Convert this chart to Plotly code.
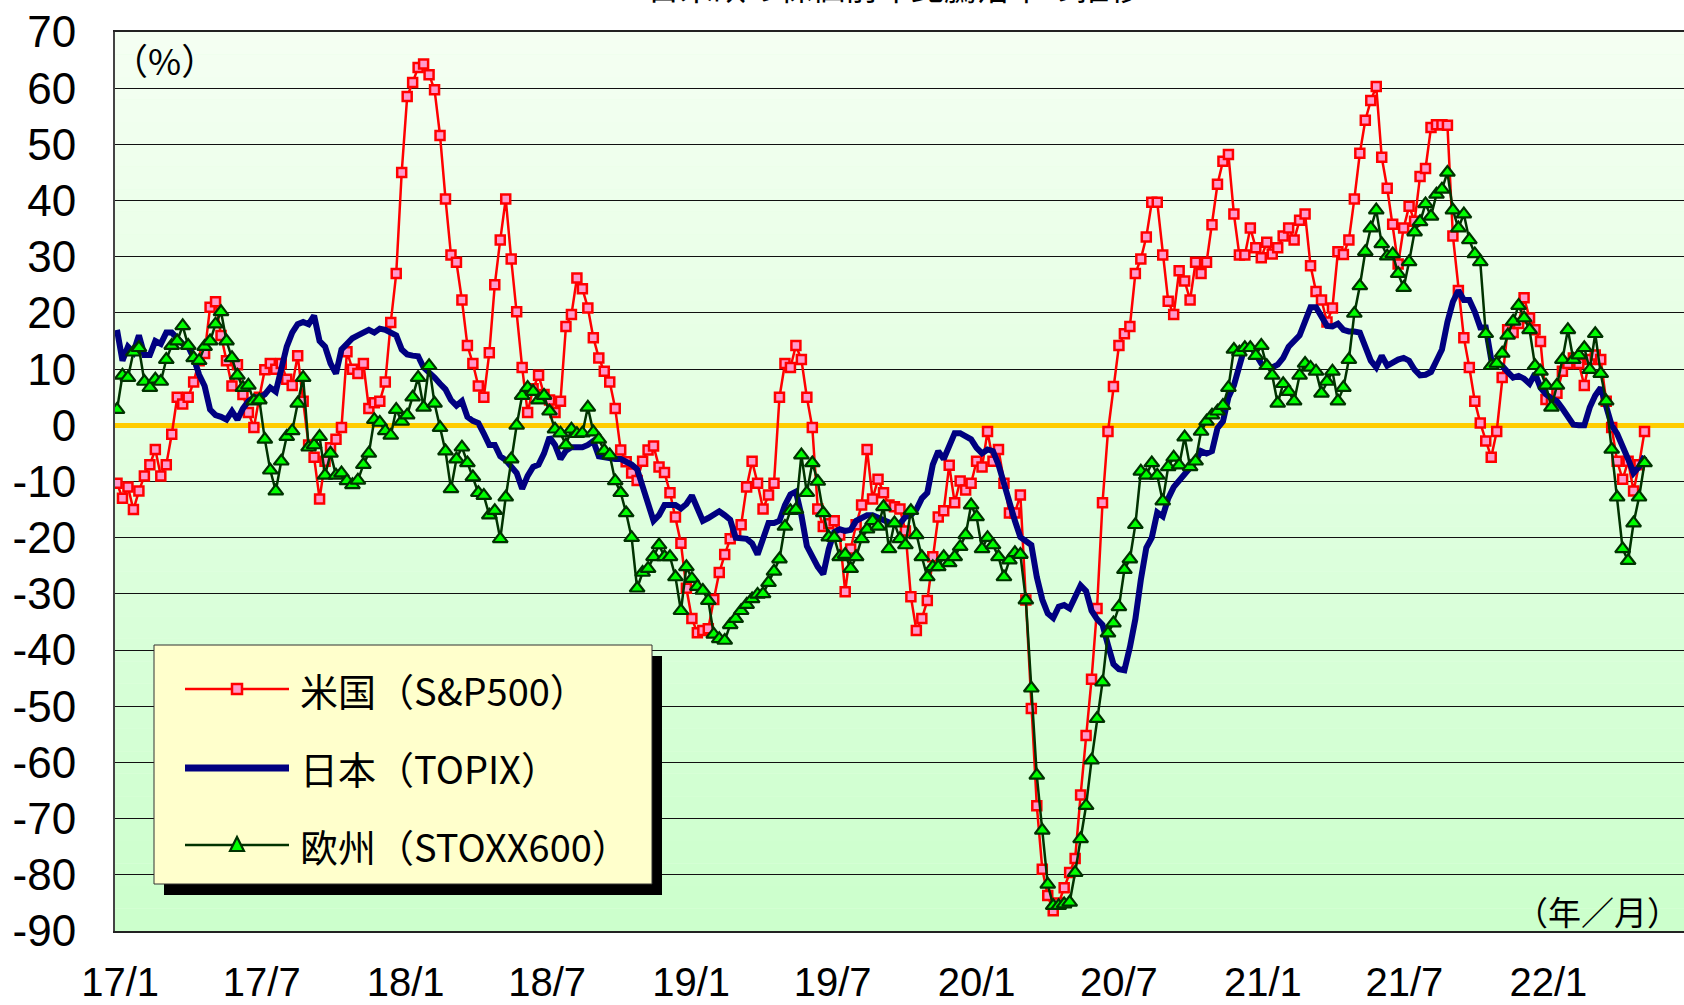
"""
日米欧の株価（前年比）の推移 - Plotly 版
"""

import pandas as pd
import plotly.graph_objects as go

# 週次データ（2017/1 〜 2022/5、前年比 %）
start_week = "2017-01-06"

usa_sp500 = [
    -10.3, -13, -11, -15, -11.7, -9, -7, -4.3, -9, -7,
    -1.6, 5, 3.8, 5, 7.7, 11.5, 12.8, 21, 22, 16,
    11.5, 7, 10.8, 5.5, 2.3, -0.4, 5, 9.9, 11, 10,
    11, 8.2, 7.1, 12.4, 4.3, -3.5, -5.7, -13.1, -6.4, -4,
    -2.5, -0.4, 13.1, 10, 9.2, 11, 3, 4, 4.3, 7.7,
    18.3, 27, 45, 58.5, 61, 63.7, 64.3, 62.4, 59.7, 51.6,
    40.3, 30.3, 29, 22.3, 14.2, 11, 7, 5, 12.9, 25,
    33, 40.3, 29.6, 20.2, 10.3, 2.3, 6.5, 8.9, 5.5, 4.5,
    2.3, 4.3, 17.6, 19.7, 26.2, 24.3, 20.9, 15.6, 12, 9.6,
    7.7, 3, -4.4, -6.5, -8.5, -9.8, -6.4, -4.4, -3.7, -7.4,
    -8.4, -12, -16.3, -21, -29, -34.4, -36.9, -36.5, -36.2, -31,
    -26.2, -23, -20.2, -19, -17.7, -11, -6.4, -10.3, -14.9, -12.4,
    -10.3, 5, 11, 10.3, 14.2, 11.7, 5, -0.4, -14.9, -18,
    -17.5, -17, -19.5, -29.6, -22, -17.7, -14.2, -4.3, -13.1, -9.6,
    -12, -14.2, -14.5, -14.9, -18.8, -30.5, -36.5, -34.4, -31.2, -23.4,
    -16.3, -15.2, -7.1, -13.8, -9.9, -11.5, -10.3, -6.4, -7.4, -1.1,
    -6.4, -4.3, -10.3, -15.6, -15.6, -12.4, -31.1, -50.4, -67.7, -79,
    -83.7, -86.4, -85, -82.3, -79.6, -77.1, -65.8, -55.2, -45.2, -32.6,
    -13.8, -1.1, 6.9, 14.2, 16.3, 17.6, 27, 29.6, 33.5, 39.7,
    39.7, 30.3, 22.1, 19.7, 27.5, 25.7, 22.3, 29, 27, 29,
    35.7, 42.9, 47, 48.2, 37.6, 30.3, 30.3, 35.1, 31.6, 29.8,
    32.6, 30.5, 31.6, 33.7, 35.1, 33, 36.5, 37.6, 28.4, 23.8,
    22.3, 18.4, 20.9, 30.9, 30.4, 33, 40.3, 48.4, 54.3, 57.8,
    60.3, 47.7, 42.2, 35.8, 28.7, 35.1, 39, 36.3, 44.3, 45.7,
    53, 53.5, 53.5, 53.4, 33.7, 24, 15.6, 10.3, 4.3, 0.4,
    -2.8, -5.7, -1.1, 8.5, 17, 16.5, 18.1, 22.7, 19.1, 17,
    14.9, 4.6, 4.3, 5.7, 9.6, 11, 12, 11, 7.1, 11.7,
    12.5, 11.7, 4.3, -0.4, -6.4, -9.6, -6.4, -11.7, -7, -1.1,
]

japan_topix = [
    17, 11.5, 14, 13, 16, 12.5, 12.5, 15, 14.5, 16.5,
    16.5, 15.5, 14.5, 14, 12, 9, 7, 2.8, 1.8, 1.5,
    1, 2.5, 1, 3, 4.3, 5, 5, 5.5, 6.7, 6,
    10, 14, 16.5, 18, 18.4, 18, 19.5, 15, 14, 11,
    9.2, 13.5, 14.5, 15.5, 16, 16.5, 17, 16.5, 17.2, 17,
    16.5, 16, 13.5, 12.6, 12.4, 12.3, 10.3, 9.5, 8.5, 7.4,
    6.4, 4.5, 3.5, 4.3, 1.5, 0.8, 0.4, -1.5, -3.5, -3.5,
    -5.5, -6.2, -7.3, -8.5, -11.3, -9, -7.4, -7, -5, -2.1,
    -3.5, -6, -4.5, -3.9, -3.9, -3.9, -3.5, -2.8, -5.5, -5.7,
    -6, -6, -6, -6.4, -7, -7.8, -11, -13.5, -17, -16,
    -14.2, -14.2, -14.2, -14.8, -14, -12.5, -15, -17, -16.5, -16,
    -15.3, -16, -16.8, -20, -20.2, -20.2, -21, -23, -20.2, -17.4,
    -17.4, -17, -14.2, -12.3, -11.8, -16, -21.5, -23.5, -25.2, -26.5,
    -22, -19, -18.5, -18.8, -18.6, -17, -16.5, -16, -16, -16.5,
    -17, -17.5, -17.7, -17.5, -16.3, -16, -15, -13, -12, -7,
    -4.6, -6, -3.5, -1.4, -1.4, -2, -2.5, -4, -5, -4.3,
    -4.6, -7, -10.5, -14, -17, -19.9, -20.5, -21.3, -27, -31,
    -33.5, -34.3, -32.3, -32, -32.6, -30.8, -28.5, -29.5, -33, -34.5,
    -35.5, -39.1, -42.5, -43.4, -43.6, -39.5, -34.5, -27.5, -21.8, -20,
    -15.5, -16.2, -13, -11, -9.9, -8.5, -7.3, -6.4, -4.6, -5,
    -4.6, -0.5, 0.7, 5, 7.1, 11, 14, 14.2, 12.5, 11,
    10.5, 10.3, 10.8, 12, 14, 15, 16, 18.5, 21, 21,
    19.2, 17.7, 17.6, 18.1, 17, 16.7, 16.7, 16.5, 14, 11.5,
    10.3, 12.4, 10.6, 11.2, 11.7, 12, 11.5, 9.9, 8.9, 9,
    9.5, 11.5, 13.5, 18.4, 22, 24, 22.3, 22.3, 20.2, 17.4,
    17.4, 11.7, 11, 10.6, 9.5, 8.5, 8.8, 8.3, 7.4, 9.2,
    6.7, 5.5, 4.8, 4.3, 3, 1.5, 0.1, 0, 0, 3.2,
    5.3, 6.7, 3.2, 0, -1.5, -3.5, -6, -8.5, -7.4, -5.5,
]

europe_stoxx600 = [
    2.8, 8.9, 8.5, 13, 13.8, 7.8, 6.7, 8.2, 7.8, 11.7,
    14.2, 15, 17.7, 14.2, 12, 11.5, 14, 15, 18, 20.2,
    15, 12, 8.9, 6.7, 7.1, 4.3, 4.5, -2.5, -8, -11.7,
    -6.4, -2, -1, 3.9, 8.5, -3.9, -3.5, -2, -8.9, -5,
    -8.9, -8.5, -9.9, -10.6, -9.8, -7, -5, 1, 0.5, -1,
    -1.8, 2.8, 0.7, 1.8, 5, 8.5, 3.2, 10.6, 3.9, -0.4,
    -4.6, -11.3, -6, -3.9, -6.7, -9.2, -12, -12.5, -16, -15.2,
    -20.2, -12.8, -6, 0, 5.3, 6.7, 6, 4.5, 5.3, 2.5,
    -0.7, -1.4, -3.5, -0.7, -1.5, -1.4, 3.2, -1.2, -2.5, -4.5,
    -5.3, -9.9, -12, -15.6, -20, -29, -26.2, -25.5, -23.4, -21.3,
    -23.4, -23.4, -27, -33, -25.2, -27.3, -28.7, -29.4, -31.2, -37.2,
    -38, -38.3, -35.5, -34.4, -33, -31.9, -30.9, -30.1, -30, -28,
    -26, -23.8, -18, -15.2, -15, -5.3, -12, -6.7, -10, -15.6,
    -19.9, -20, -23.4, -23, -25.5, -23.4, -20.2, -18.5, -17, -18,
    -14.5, -22, -17.4, -20.2, -21.3, -15.2, -19.5, -23.4, -27, -25.2,
    -25.2, -23.4, -24.5, -23.4, -21.6, -19.5, -14.2, -16.3, -22, -20,
    -21.3, -23.4, -27, -24, -22.7, -23, -31.1, -46.8, -62.3, -72.1,
    -81.7, -85.5, -85.5, -85.2, -84.9, -79.6, -73.6, -67.7, -59.6, -52.2,
    -45.7, -37, -35.2, -32.3, -25.7, -23.8, -17.7, -8.2, -8.9, -6.7,
    -8.9, -13.5, -7.4, -5.7, -7.1, -2.1, -7.4, -6.4, -1.1, 0.7,
    1.8, 2.5, 3.5, 6.7, 13.5, 13, 13.8, 13.8, 12.4, 14.2,
    10.6, 8.9, 3.9, 7.4, 6, 4.3, 8.9, 11, 10.3, 9.6,
    5.7, 7.8, 9.6, 4.3, 6.7, 11.7, 19.9, 24.8, 30.9, 35.1,
    38.3, 32.3, 30.1, 30.5, 27, 24.5, 29.1, 34.4, 36.2, 39.4,
    37.2, 41.1, 42, 45, 38.3, 35.1, 37.6, 33, 30.5, 29.1,
    16.3, 10.6, 11, 12.8, 16, 18.5, 21.3, 19.1, 17, 10.6,
    9.6, 7.1, 3.2, 7.1, 11.7, 17, 11.7, 12.5, 13.8, 9.9,
    16.3, 9.2, 4.3, -4.3, -12.8, -22, -24.1, -17.4, -12.8, -6.7,
]

tick_dates = [
    "2017-01-10", "2017-07-10", "2018-01-10", "2018-07-10", "2019-01-10", "2019-07-10",
    "2020-01-10", "2020-07-10", "2021-01-10", "2021-07-10", "2022-01-10",
]
tick_labels = ["17/1", "17/7", "18/1", "18/7", "19/1", "19/7", "20/1", "20/7", "21/1", "21/7", "22/1"]
y_ticks = list(range(-90, 71, 10))

series_names = ["米国（S&P500）", "日本（TOPIX）", "欧州（STOXX600）"]

assert len(usa_sp500) == len(japan_topix) == len(europe_stoxx600)

weeks = pd.date_range(start_week, periods=len(usa_sp500), freq="7D")

# 画面レイアウト（ピクセル）
W, H = 1684, 1005
L, R, T, B = 115, 0, 32, 74
PW, PH = W - L - R, H - T - B
WEEK_PX = 5.475


def px(x):
    return (x - L) / PW


def py(y):
    return (H - B - y) / PH


t0 = pd.Timestamp(start_week)
x_range = [t0 - pd.Timedelta(days=(117 - L) / WEEK_PX * 7),
           t0 + pd.Timedelta(days=(W - 117) / WEEK_PX * 7)]

RED, PINK = "#FF0000", "#FF99CC"
NAVY = "#000080"
DKGREEN, GREEN = "#003300", "#00FF00"
JP_FONT = "Noto Sans CJK JP"
NUM_FONT = "Liberation Sans, Arial"

fig = go.Figure()
fig.add_trace(go.Scatter(
    x=weeks, y=usa_sp500, name=series_names[0], mode="lines+markers",
    line=dict(color=RED, width=2.5),
    marker=dict(symbol="square", size=9, color=PINK, line=dict(color=RED, width=2.5)),
))
fig.add_trace(go.Scatter(
    x=weeks, y=japan_topix, name=series_names[1], mode="lines",
    line=dict(color=NAVY, width=6),
))
fig.add_trace(go.Scatter(
    x=weeks, y=europe_stoxx600, name=series_names[2], mode="lines+markers",
    line=dict(color=DKGREEN, width=2.5),
    marker=dict(symbol="triangle-up", size=13, color=GREEN, line=dict(color=DKGREEN, width=2.2)),
))

shapes = []

# 背景グラデーション（上：淡い → 下：薄緑）
n_bands = 40
top_rgb, bot_rgb = (244, 255, 242), (204, 255, 204)
for i in range(n_bands):
    f = i / (n_bands - 1)
    c = tuple(round(top_rgb[k] + (bot_rgb[k] - top_rgb[k]) * f) for k in range(3))
    shapes.append(dict(
        type="rect", xref="paper", yref="paper", layer="below",
        x0=0, x1=1, y0=1 - (i + 1) / n_bands, y1=1 - i / n_bands,
        fillcolor=f"rgb{c}", line=dict(width=0),
    ))

# 凡例（影付きボックス）
box = (154, 645, 652, 884)
shadow_dx, shadow_dy = 10, 11
shapes.append(dict(type="rect", xref="paper", yref="paper", layer="above",
                   x0=px(box[0] + shadow_dx), x1=px(box[2] + shadow_dx),
                   y0=py(box[3] + shadow_dy), y1=py(box[1] + shadow_dy),
                   fillcolor="black", line=dict(width=0)))
shapes.append(dict(type="rect", xref="paper", yref="paper", layer="above",
                   x0=px(box[0]), x1=px(box[2]), y0=py(box[3]), y1=py(box[1]),
                   fillcolor="#FFFFCC", line=dict(color="#333333", width=1)))

rows_y = [689, 768, 845]
line_x0, line_x1 = 185, 289
mid_x = (line_x0 + line_x1) / 2
styles = [(RED, 2.5), (NAVY, 7), (DKGREEN, 2.5)]
for ry, (col, lw) in zip(rows_y, styles):
    shapes.append(dict(type="line", xref="paper", yref="paper", layer="above",
                       x0=px(line_x0), x1=px(line_x1), y0=py(ry), y1=py(ry),
                       line=dict(color=col, width=lw)))

# 凡例マーカー
sq = 5
shapes.append(dict(type="rect", xref="paper", yref="paper", layer="above",
                   x0=px(mid_x - sq), x1=px(mid_x + sq),
                   y0=py(rows_y[0] + sq), y1=py(rows_y[0] - sq),
                   fillcolor=PINK, line=dict(color=RED, width=2.5)))
ty = rows_y[2]
tri = (f"M {px(mid_x - 7)},{py(ty + 6)} L {px(mid_x + 7)},{py(ty + 6)} "
       f"L {px(mid_x)},{py(ty - 8)} Z")
shapes.append(dict(type="path", xref="paper", yref="paper", layer="above",
                   path=tri, fillcolor=GREEN, line=dict(color=DKGREEN, width=2.2)))

annotations = []
for ry, name in zip(rows_y, series_names):
    annotations.append(dict(
        xref="paper", yref="paper", x=px(298), y=py(ry), xanchor="left", yanchor="middle",
        text=name, showarrow=False, font=dict(family=JP_FONT, size=38, color="black"),
    ))

annotations.append(dict(
    xref="paper", yref="paper", x=px(110), y=py(59), xanchor="left", yanchor="middle",
    text="（%）", showarrow=False, font=dict(family=JP_FONT, size=36, color="black"),
))
annotations.append(dict(
    xref="paper", yref="paper", x=px(1682), y=py(911), xanchor="right", yanchor="middle",
    text="（年／月）", showarrow=False, font=dict(family=JP_FONT, size=33, color="black"),
))
# 上端で切れているタイトル
annotations.append(dict(
    xref="paper", yref="paper", x=px(894), y=py(-14), xanchor="center", yanchor="middle",
    text="日米欧の株価前年比騰落率の推移", showarrow=False,
    font=dict(family=JP_FONT, size=33, color="black"),
))

fig.update_layout(
    width=W, height=H,
    margin=dict(l=L, r=R, t=T, b=B, pad=0, autoexpand=False),
    paper_bgcolor="white",
    plot_bgcolor="#E6FFE4",
    showlegend=False,
    shapes=shapes,
    annotations=annotations,
    xaxis=dict(
        type="date", range=x_range, tickmode="array", tickvals=tick_dates, ticktext=tick_labels,
        showgrid=False, zeroline=False, ticks="", automargin=False,
        showline=True, mirror=True, linecolor="#222222", linewidth=2,
        tickfont=dict(family=NUM_FONT, size=40, color="black"),
        ticklabelstandoff=15,
    ),
    yaxis=dict(
        range=[-90, 70], tickmode="array", tickvals=y_ticks, ticktext=[str(v) for v in y_ticks],
        showgrid=True, gridcolor="#111111", gridwidth=1, automargin=False,
        zeroline=True, zerolinecolor="#FFCC00", zerolinewidth=5,
        showline=True, linecolor="#444444", linewidth=2, ticks="",
        tickfont=dict(family=NUM_FONT, size=44, color="black"),
        ticklabelstandoff=28,
    ),
)

fig.write_html(
    "out.html",
    config={"displayModeBar": False},
    post_script="document.body.style.margin='0';",
)
